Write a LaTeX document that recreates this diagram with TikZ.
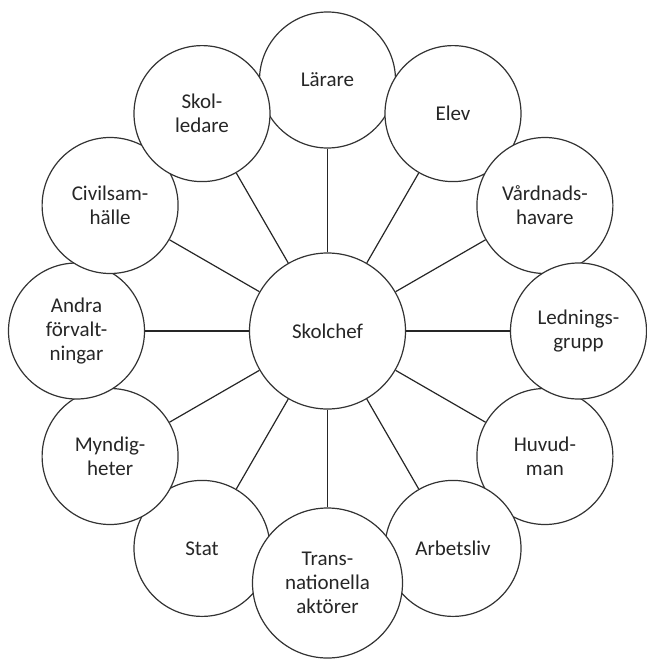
\documentclass[tikz,border=0pt]{standalone}
\usepackage{fontspec}
\setmainfont{Carlito}
\begin{document}
\begin{tikzpicture}[x=1pt,y=-1pt,
  bub/.style={circle,draw=black!80,line width=1.2pt,fill=white,inner sep=0pt,
    minimum size=136pt,align=center,text=black!85,
    font=\fontsize{21}{24}\selectfont},
  link/.style={draw=black!85,line width=1.2pt}]
\useasboundingbox (0,0) rectangle (646,659);
\node[bub] (lar) at (327.5,80) {Lärare};
\node[bub] (elev) at (453,113.6) {Elev};
\node[bub] (vard) at (544.9,205.5) {Vårdnads-\\havare};
\node[bub] (huv) at (544.9,456.5) {Huvud-\\man};
\node[bub] (led) at (578.5,331) {Lednings-\\grupp};
\node[bub] (arb) at (453,548.4) {Arbetsliv};
\node[bub] (stat) at (202,548.4) {Stat};
\node[bub,minimum size=150pt] (trans) at (327.5,583) {Trans-\\nationella\\aktörer};
\node[bub] (myn) at (110.1,456.5) {Myndig-\\heter};
\node[bub] (andra) at (76.5,331) {Andra\\förvalt-\\ningar};
\node[bub] (civ) at (110.1,205.5) {Civilsam-\\hälle};
\node[bub] (skol) at (202,113.6) {Skol-\\ledare};
\node[bub,minimum size=156pt] (chef) at (327.5,331) {Skolchef};
\foreach \n in {lar,elev,vard,led,huv,arb,trans,stat,myn,andra,civ,skol}
  \draw[link] (chef) -- (\n);
\end{tikzpicture}
\end{document}
